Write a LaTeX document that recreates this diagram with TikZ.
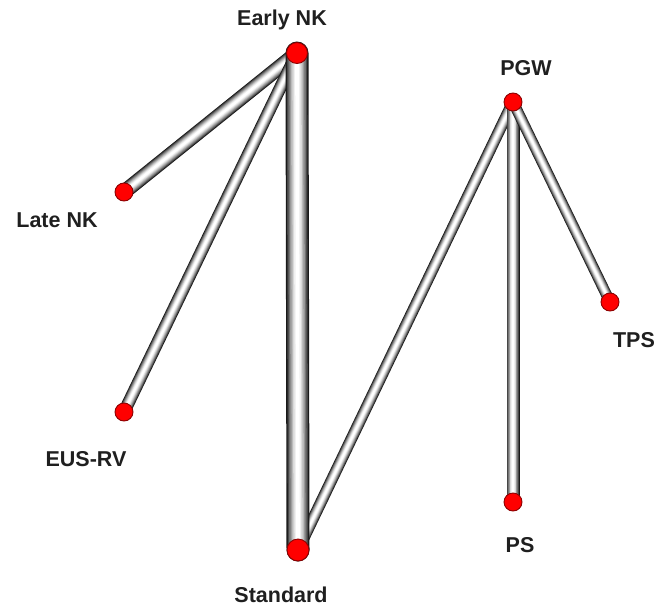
\documentclass[tikz,border=0pt]{standalone}
\usepackage{fontspec}
\setmainfont{Liberation Sans}
\begin{document}
\begin{tikzpicture}[x=1pt,y=-1pt,
  lbl/.style={font=\bfseries\fontsize{21.5}{24}\selectfont, text=black!88, inner sep=0pt},
  dot/.style={circle, fill=red, draw=red!55!black, line width=0.9pt, inner sep=0pt, minimum size=#1}]
  \useasboundingbox (0,0) rectangle (666,607);

  % network nodes (positions)
  \coordinate (early) at (297,53);
  \coordinate (late)  at (124,192);
  \coordinate (eus)   at (124,412);
  \coordinate (std)   at (298,550);
  \coordinate (pgw)   at (513,102);
  \coordinate (tps)   at (610,302);
  \coordinate (ps)    at (513,502);

  % shaded cylindrical tube: #1 width, #2 and #3 end points
  \newcommand\drawtube[3]{%
    \foreach \f/\c in {1.00/black!90, 0.88/black!72, 0.76/black!55, 0.64/black!40,
                       0.52/black!27, 0.40/black!15, 0.28/black!6, 0.16/white}{%
      \draw[line width=\f*#1, color=\c, line cap=round] (#2) -- (#3);
    }}

  % comparisons
  \drawtube{15pt}{early}{late}
  \drawtube{12.5pt}{early}{eus}
  \drawtube{11.5pt}{std}{pgw}
  \drawtube{13pt}{pgw}{ps}
  \drawtube{11pt}{pgw}{tps}
  \drawtube{23pt}{early}{std}

  % treatment markers
  \node[dot=21pt] (early-d) at (early) {};
  \node[dot=18pt] (late-d)  at (late)  {};
  \node[dot=18pt] (eus-d)   at (eus)   {};
  \node[dot=22pt] (std-d)   at (std)   {};
  \node[dot=18pt] (pgw-d)   at (pgw)   {};
  \node[dot=18pt] (tps-d)   at (tps)   {};
  \node[dot=18pt] (ps-d)    at (ps)    {};

  % labels
  \node[lbl] (early-l) at (282,20)  {Early NK};
  \node[lbl] (late-l)  at (57,220)  {Late NK};
  \node[lbl] (eus-l)   at (86,459)  {EUS-RV};
  \node[lbl] (std-l)   at (281,595) {Standard};
  \node[lbl] (pgw-l)   at (526,68)  {PGW};
  \node[lbl] (tps-l)   at (634,340) {TPS};
  \node[lbl] (ps-l)    at (520,545) {PS};
\end{tikzpicture}
\end{document}
